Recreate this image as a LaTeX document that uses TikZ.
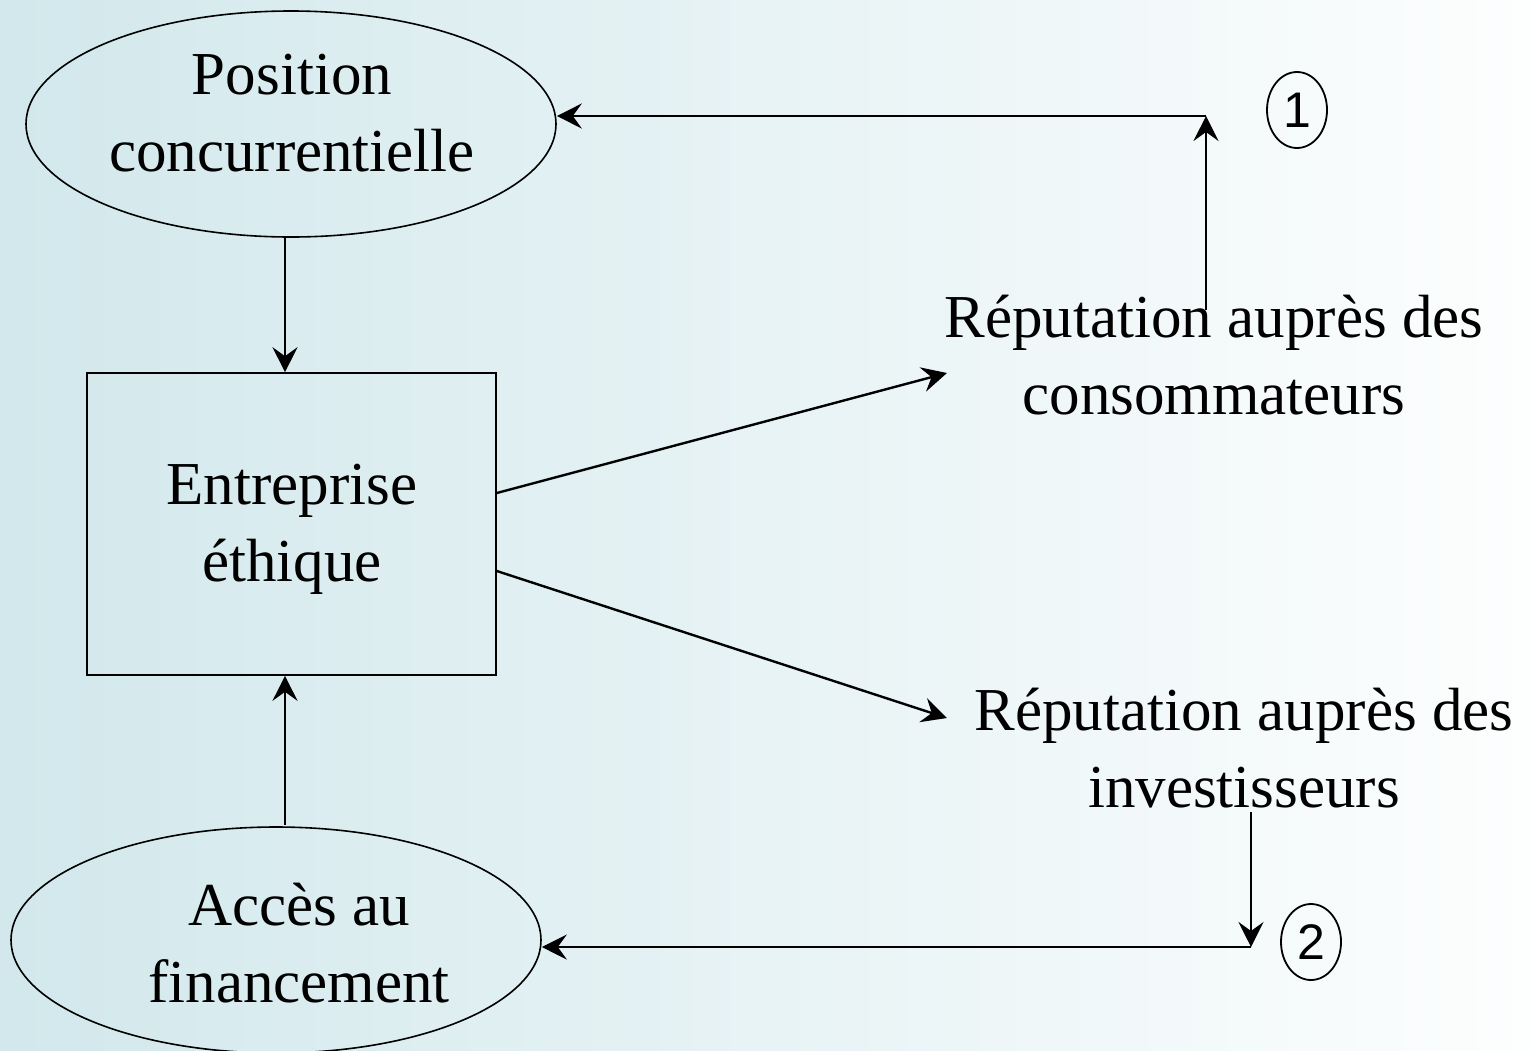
\documentclass[tikz,border=0pt]{standalone}
\usepackage{fontspec}
\setmainfont{Liberation Serif}
\newfontfamily\numfont{Liberation Sans}
\usetikzlibrary{shapes.geometric,arrows.meta}
\begin{document}
\begin{tikzpicture}[x=1pt,y=-1pt,
  every node/.style={font=\fontsize{61}{77}\selectfont, align=center, inner sep=0pt},
  bubble/.style={draw, line width=1.6pt, ellipse, minimum width=530pt, minimum height=226pt},
  firm/.style={draw, line width=1.6pt, rectangle, minimum width=409pt, minimum height=302pt},
  tag/.style={draw, line width=1.8pt, ellipse, minimum width=60pt, minimum height=76pt, font=\numfont\fontsize{50}{54}\selectfont},
  link/.style={line width=2.4pt, -{Stealth[length=25pt,width=25pt,inset=9pt]}}]
  % background wash
  \shade[left color={rgb,255:red,210;green,232;blue,236},
         middle color={rgb,255:red,232;green,243;blue,245},
         right color={rgb,255:red,253;green,254;blue,254}]
    (0,0) rectangle (1530,1050);
  \useasboundingbox (0,0) rectangle (1530,1050);

  % main shapes
  \node[bubble] (pos) at (291,124) {};
  \node[firm] (firm) at (291.5,524) {};
  \node[bubble] (fin) at (276,940) {};

  % their texts
  \node (posText) at (292,113) {Position\\concurrentielle};
  \node (firmText) at (292,529) {Entreprise\\éthique};
  \node (finText) at (299,943) {Accès au\\financement};
  \node (cons) at (1214,355) {Réputation auprès des\\consommateurs};
  \node (inv) at (1244,748) {Réputation auprès des\\investisseurs};
  \node[tag] (one) at (1297,110) {1};
  \node[tag] (two) at (1311,942) {2};

  % anchor points of the feedback loops
  \coordinate (c1) at (1206,310);
  \coordinate (k1) at (1206,116);
  \coordinate (c2) at (1251,812);
  \coordinate (k2) at (1251,947);

  % influences on the firm
  \draw[link] (pos.south -| 285,0) -- (firm.north -| 285,0);
  \draw[link] (fin.north -| 285,0) ++(0,-1) -- (firm.south -| 285,0);

  % effects on reputation
  \draw[link] (firm.east |- 0,493) -- (947,373);
  \draw[link] (firm.east |- 0,571) -- (947,718);

  % feedback loops
  \draw[link] (c1) -- (k1);
  \draw[link] (k1) -- (pos.east |- k1);
  \draw[link] (c2) -- (k2);
  \draw[link] (k2) -- (fin.east |- k2);
\end{tikzpicture}
\end{document}
